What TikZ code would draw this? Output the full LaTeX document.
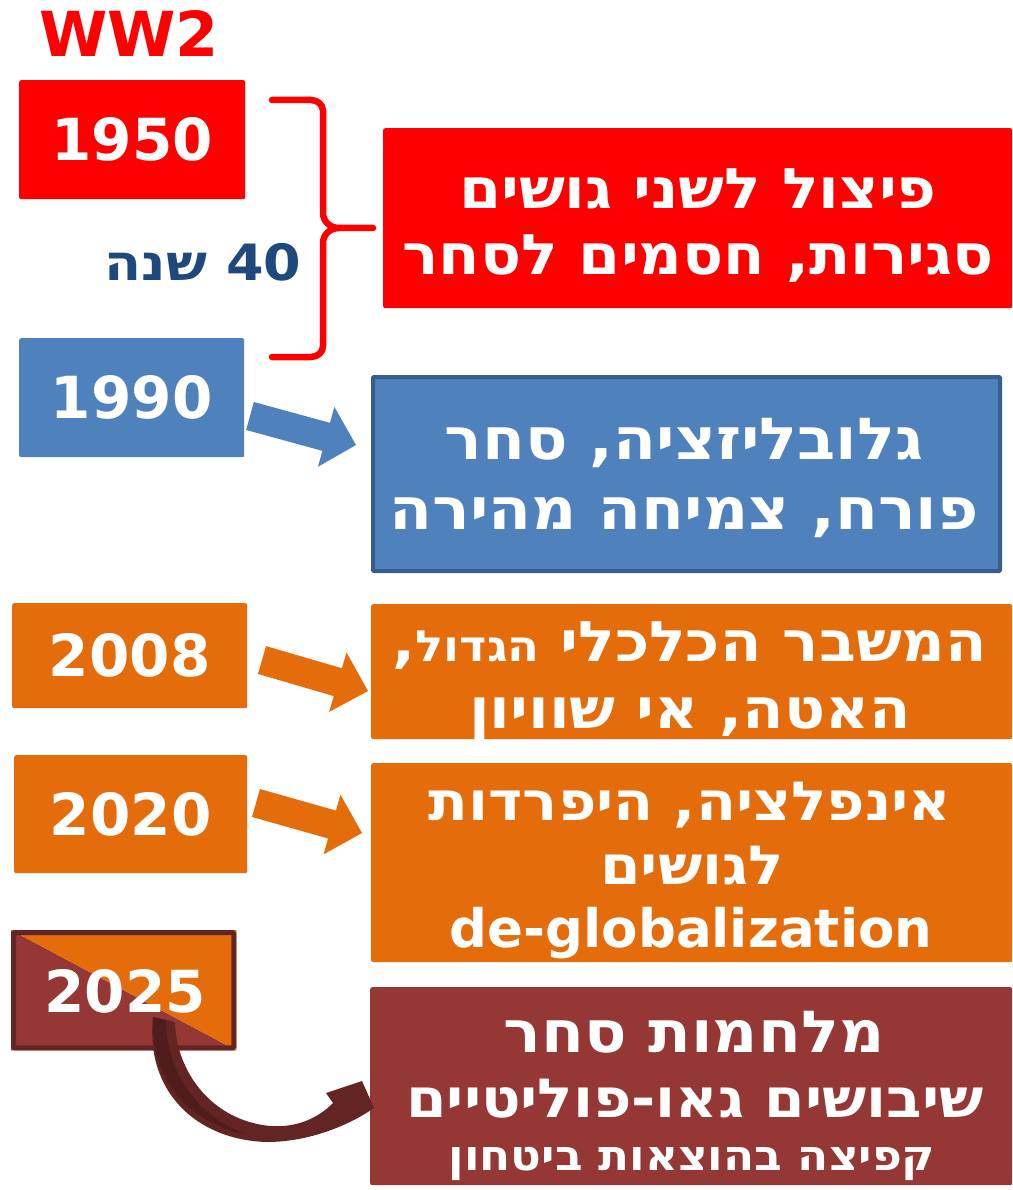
\documentclass[tikz,border=0pt]{standalone}
\usepackage{fontspec}
\usetikzlibrary{calc}
\TeXXeTstate=1
\setmainfont{DejaVu Sans}
\newfontfamily\heb[Script=Hebrew,FakeStretch=1.08]{DejaVu Sans}
\newcommand\fsz[1]{\fontsize{#1}{#1}\selectfont}
\definecolor{cRed}{HTML}{FF0000}
\definecolor{cBlue}{HTML}{4F81BD}
\definecolor{cBlueD}{HTML}{385D8A}
\definecolor{cOrange}{HTML}{E46C0A}
\definecolor{cBrown}{HTML}{953735}
\definecolor{cBrownD}{HTML}{632523}
\definecolor{cBrownDD}{HTML}{501C1C}
\definecolor{cNavy}{HTML}{1F497D}
\begin{document}
\begin{tikzpicture}[x=1pt,y=-1pt,
  box/.style={rectangle, rounded corners=2pt, inner sep=0pt, anchor=north west},
  yeartext/.style={text=white, inner sep=0pt, font=\bfseries\fsz{58}},
  htext/.style={text=white, inner sep=0pt, anchor=base, font=\bfseries\fsz{56}},
]
\useasboundingbox (0,0) rectangle (1012,1190);
\fill[white] (0,0) rectangle (1012,1190);

% WW2
\node[text=cRed, inner sep=0pt, anchor=base, font=\bfseries\fsz{62}] (ww2) at (129,57) {WW2};

% 1950
\node[box, fill=cRed, minimum width=226pt, minimum height=119pt] (b1950) at (19,80) {};
\node[yeartext] (t1950) at (b1950.center) {1950};

% brace
\coordinate (brTop) at (272,100);
\coordinate (brBot) at (272,357);
\coordinate (brTip) at (373,228);
\draw[cRed, line width=6.5pt, line cap=round, line join=round]
  (brTop) -- (311,100) to[out=0,in=90] (323,111) -- (323,213) to[out=-90,in=180] (339,228) -- (brTip);
\draw[cRed, line width=6.5pt, line cap=round, line join=round]
  (339,228) to[out=180,in=90] (323,243) -- (323,346) to[out=-90,in=0] (311,357) -- (brBot);

% 40 years
\node[text=cNavy, inner sep=0pt, anchor=base, font=\bfseries\fsz{50}] (years) at (203,280) {\heb\beginR\beginL 40\endL{} שנה\endR};

% red text box
\node[box, fill=cRed, minimum width=629pt, minimum height=180pt] (rbox) at (383,128) {};
\node[htext] (r1) at (698,209) {\heb\beginR פיצול לשני גושים\endR};
\node[htext] (r2) at (698,274) {\heb\beginR סגירות, חסמים לסחר\endR};

% 1990
\node[box, fill=cBlue, minimum width=225pt, minimum height=119pt] (b1990) at (19,338) {};
\node[yeartext] (t1990) at (b1990.center) {1990};

% blue text box
\node[box, fill=cBlue, draw=cBlueD, line width=4pt, rounded corners=1pt, minimum width=627pt, minimum height=194pt] (bbox) at (371,375) {};
\node[htext, font=\bfseries\fsz{58}] (g1) at (684,459) {\heb\beginR גלובליזציה, סחר\endR};
\node[htext, font=\bfseries\fsz{58}] (g2) at (684,529) {\heb\beginR פורח, צמיחה מהירה\endR};

% block arrow 1990
\coordinate (a1T) at (250,416);
\coordinate (a1P) at (356,445);
\fill[cBlue]
  ($(a1T)!14.5pt!90:(a1P)$) -- ($($(a1T)!79pt!(a1P)$)!14.5pt!90:(a1P)$) -- ($($(a1T)!79pt!(a1P)$)!31pt!90:(a1P)$)
  -- (a1P) -- ($($(a1T)!79pt!(a1P)$)!31pt!-90:(a1P)$) -- ($($(a1T)!79pt!(a1P)$)!14.5pt!-90:(a1P)$)
  -- ($(a1T)!14.5pt!-90:(a1P)$) -- cycle;

% 2008
\node[box, fill=cOrange, minimum width=235pt, minimum height=105pt] (b2008) at (12,603) {};
\node[yeartext] (t2008) at (b2008.center) {2008};

\node[box, fill=cOrange, minimum width=641pt, minimum height=135pt] (obox1) at (371,604) {};
\node[htext] (o1) at (690,661) {\heb\beginR המשבר הכלכלי {\fsz{43}הגדול},\endR};
\node[htext] (o2) at (690,728) {\heb\beginR האטה, אי שוויון\endR};

\coordinate (a2T) at (262,660);
\coordinate (a2P) at (368,691);
\fill[cOrange]
  ($(a2T)!14.5pt!90:(a2P)$) -- ($($(a2T)!79pt!(a2P)$)!14.5pt!90:(a2P)$) -- ($($(a2T)!79pt!(a2P)$)!31pt!90:(a2P)$)
  -- (a2P) -- ($($(a2T)!79pt!(a2P)$)!31pt!-90:(a2P)$) -- ($($(a2T)!79pt!(a2P)$)!14.5pt!-90:(a2P)$)
  -- ($(a2T)!14.5pt!-90:(a2P)$) -- cycle;

% 2020
\node[box, fill=cOrange, minimum width=233pt, minimum height=118pt] (b2020) at (14,755) {};
\node[yeartext] (t2020) at (b2020.center) {2020};

\node[box, fill=cOrange, minimum width=641pt, minimum height=199pt] (obox2) at (371,763) {};
\node[htext, font=\bfseries\fsz{54}] (p1) at (690,820) {\heb\beginR אינפלציה, היפרדות\endR};
\node[htext, font=\bfseries\fsz{54}] (p2) at (692,884) {\heb\beginR לגושים\endR};
\node[htext, font=\bfseries\fsz{53}] (p3) at (691,947) {de-globalization};

\coordinate (a3T) at (256,803);
\coordinate (a3P) at (362,833);
\fill[cOrange]
  ($(a3T)!14.5pt!90:(a3P)$) -- ($($(a3T)!79pt!(a3P)$)!14.5pt!90:(a3P)$) -- ($($(a3T)!79pt!(a3P)$)!31pt!90:(a3P)$)
  -- (a3P) -- ($($(a3T)!79pt!(a3P)$)!31pt!-90:(a3P)$) -- ($($(a3T)!79pt!(a3P)$)!14.5pt!-90:(a3P)$)
  -- ($(a3T)!14.5pt!-90:(a3P)$) -- cycle;

% 2025
\node[box, minimum width=225pt, minimum height=120pt] (b2025) at (11,930) {};
\fill[cBrown] (b2025.north west) -- (b2025.south east) -- (b2025.south west) -- cycle;
\fill[cOrange] (b2025.north west) -- (b2025.north east) -- (b2025.south east) -- cycle;
\draw[cBrownD, line width=5pt, rounded corners=1.5pt] ($(b2025.north west)+(2.5,2.5)$) rectangle ($(b2025.south east)+(-2.5,-2.5)$);
\node[yeartext] (t2025) at (125,991) {2025};

% brown box
\node[box, fill=cBrown, minimum width=642pt, minimum height=198pt] (wbox) at (370,987) {};
\node[htext, font=\bfseries\fsz{58}] (w1) at (694,1052) {\heb\beginR מלחמות סחר\endR};
\node[htext, font=\bfseries\fsz{54}] (w2) at (695,1117) {\heb\beginR שיבושים גאו-פוליטיים\endR};
\node[htext, font=\bfseries\fsz{42}] (w3) at (692,1170) {\heb\beginR קפיצה בהוצאות ביטחון\endR};

% curved arrow
\coordinate (cTail) at (153,1017);
\coordinate (cTip) at (374,1108);
\fill[cBrownD]
  (cTail) -- (175,1022)
  .. controls (176,1070) and (210,1120) .. (270,1126)
  .. controls (300,1128) and (320,1116) .. (333,1103)
  -- (326,1093) -- (362,1081) -- (cTip)
  .. controls (345,1128) and (305,1142) .. (267,1142)
  .. controls (195,1140) and (145,1090) .. (cTail) -- cycle;
\fill[cBrownDD]
  (cTail) -- (166,1020)
  .. controls (166,1070) and (195,1115) .. (245,1134)
  .. controls (195,1125) and (150,1085) .. (cTail) -- cycle;
\end{tikzpicture}
\end{document}
